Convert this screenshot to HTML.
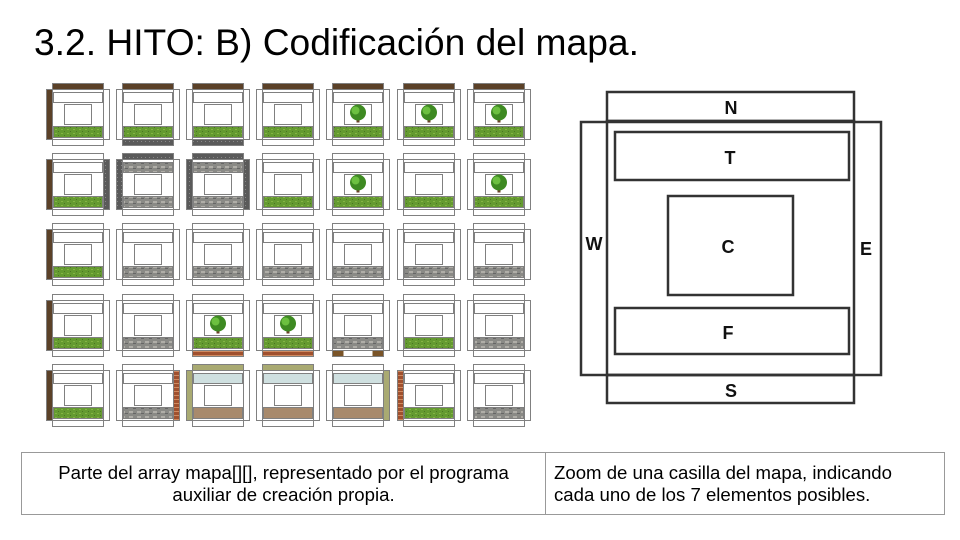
<!DOCTYPE html>
<html><head><meta charset="utf-8">
<style>
html,body{margin:0;padding:0;background:#fff;}
body{width:960px;height:540px;position:relative;overflow:hidden;font-family:"Liberation Sans",Arial,sans-serif;}
#title{position:absolute;left:34px;top:21px;font-size:37.2px;color:#000;white-space:nowrap;}
table{position:absolute;left:21px;top:452px;width:924px;height:63px;border-collapse:collapse;}
td{border:1px solid #999;font-size:18.6px;line-height:22px;color:#000;vertical-align:middle;padding:0;}
</style></head><body>
<div id="title">3.2. HITO: B) Codificación del mapa.</div>
<svg id="s" width="960" height="540" style="position:absolute;left:0;top:0">
<defs>
<pattern id="grass" width="6" height="4" patternUnits="userSpaceOnUse"><rect width="6" height="4" fill="#649a30"/><rect x="1" y="1" width="2" height="1" fill="#84b444"/><rect x="4" y="3" width="1" height="1" fill="#4a7422"/></pattern>
<pattern id="cob" width="8" height="5" patternUnits="userSpaceOnUse"><rect width="8" height="5" fill="#8a8a86"/><rect x="1" y="1" width="4" height="2" fill="#b0aea8"/><rect x="5" y="3" width="3" height="1" fill="#666"/></pattern>
<pattern id="dark" width="4" height="4" patternUnits="userSpaceOnUse"><rect width="4" height="4" fill="#5a5a5a"/><rect x="1" y="1" width="1" height="1" fill="#888"/></pattern>
<pattern id="brick" width="6" height="4" patternUnits="userSpaceOnUse"><rect width="6" height="4" fill="#a0502e"/><rect y="3" width="6" height="1" fill="#d08a60"/></pattern>
</defs>
<g id="tiles"></g>
<g fill="none" stroke="#333" stroke-width="2.5">
<rect x="607" y="92" width="247" height="29"/>
<rect x="581" y="122" width="300" height="253"/>
<rect x="607" y="121" width="247" height="254"/>
<rect x="607" y="375" width="247" height="28"/>
<rect x="615" y="132" width="234" height="48"/>
<rect x="668" y="196" width="125" height="99"/>
<rect x="615" y="308" width="234" height="46"/>
</g>
<g font-family="Liberation Sans, Arial, sans-serif" font-weight="bold" font-size="18" text-anchor="middle" fill="#111">
<text x="731" y="114">N</text>
<text x="730" y="164">T</text>
<text x="728" y="253">C</text>
<text x="594" y="250">W</text>
<text x="866" y="255">E</text>
<text x="728" y="339">F</text>
<text x="731" y="397">S</text>
</g>
</svg>
<table><tr>
<td style="width:523px;text-align:center;">Parte del array mapa[][], representado por el programa<br>auxiliar de creación propia.</td>
<td style="padding-left:8px;">Zoom de una casilla del mapa, indicando<br>cada uno de los 7 elementos posibles.</td>
</tr></table>
<script>
var C={d:"#5b4128",g:"url(#grass)",c:"url(#cob)",k:"url(#dark)",b:"url(#brick)",o:"#a9aa72",w:"#cfe0e0",s:"#a88a6c"};
var rows=[
[["d","d","","","","g",0],["d","","","k","","g",0],["d","","","k","","g",0],["d","","","","","g",0],["d","","","","","g",1],["d","","","","","g",1],["d","","","","","g",1]],
[["","d","k","","","g",0],["k","k","","","c","c",0],["k","k","k","","c","c",0],["","","","","","g",0],["","","","","","g",1],["","","","","","g",0],["","","","","","g",1]],
[["","d","","","","g",0],["","","","","","c",0],["","","","","","c",0],["","","","","","c",0],["","","","","","c",0],["","","","","","c",0],["","","","","","c",0]],
[["","d","","","","g",0],["","","","","","c",0],["","","","b","","g",1],["","","","b","","g",1],["","","","x","","c",0],["","","","","","g",0],["","","","","","c",0]],
[["","d","","","","g",0],["","","b","","","c",0],["o","o","","","w","s",0],["o","","","","w","s",0],["","","o","","w","s",0],["","b","","","","g",0],["","","","","","c",0]]
];
var h="";
function r(x,y,w,hh,f){h+='<rect x="'+x+'" y="'+y+'" width="'+w+'" height="'+hh+'" fill="'+f+'"/>';}
function o(x,y,w,hh){h+='<rect x="'+x+'" y="'+y+'" width="'+w+'" height="'+hh+'" fill="none" stroke="#808080" stroke-width="1"/>';}
for(var j=0;j<5;j++)for(var i=0;i<7;i++){
 var t=rows[j][i],x=Math.round(46+70.1*i)+.5,y=Math.round(83+70.2*j)+.5;
 if(t[0])r(x+6,y,51,6,C[t[0]]);
 if(t[1])r(x,y+6,6,50,C[t[1]]);
 if(t[2])r(x+57,y+6,6,50,C[t[2]]);
 if(t[3]=="x"){r(x+6,y+56,11,6,"#7a5428");r(x+46,y+56,11,6,"#7a5428");}
 else if(t[3])r(x+6,y+56,51,6,C[t[3]]);
 if(t[4])r(x+7,y+9,49,10,C[t[4]]);
 if(t[5])r(x+7,y+43,49,11,C[t[5]]);
 o(x+6,y,51,6);o(x,y+6,63,50);o(x+6,y+6,51,50);o(x+6,y+56,51,6);
 o(x+7,y+9,49,10);o(x+18,y+21,27,20);o(x+7,y+43,49,11);
 if(t[6]){h+='<rect x="'+(x+30)+'" y="'+(y+33)+'" width="3" height="6" fill="#6a4028"/><circle cx="'+(x+31.5)+'" cy="'+(y+29)+'" r="8" fill="#3e8a22"/><circle cx="'+(x+29)+'" cy="'+(y+27)+'" r="4" fill="#6cc040"/>';}
}
document.getElementById("tiles").innerHTML=h;
</script>
</body></html>
